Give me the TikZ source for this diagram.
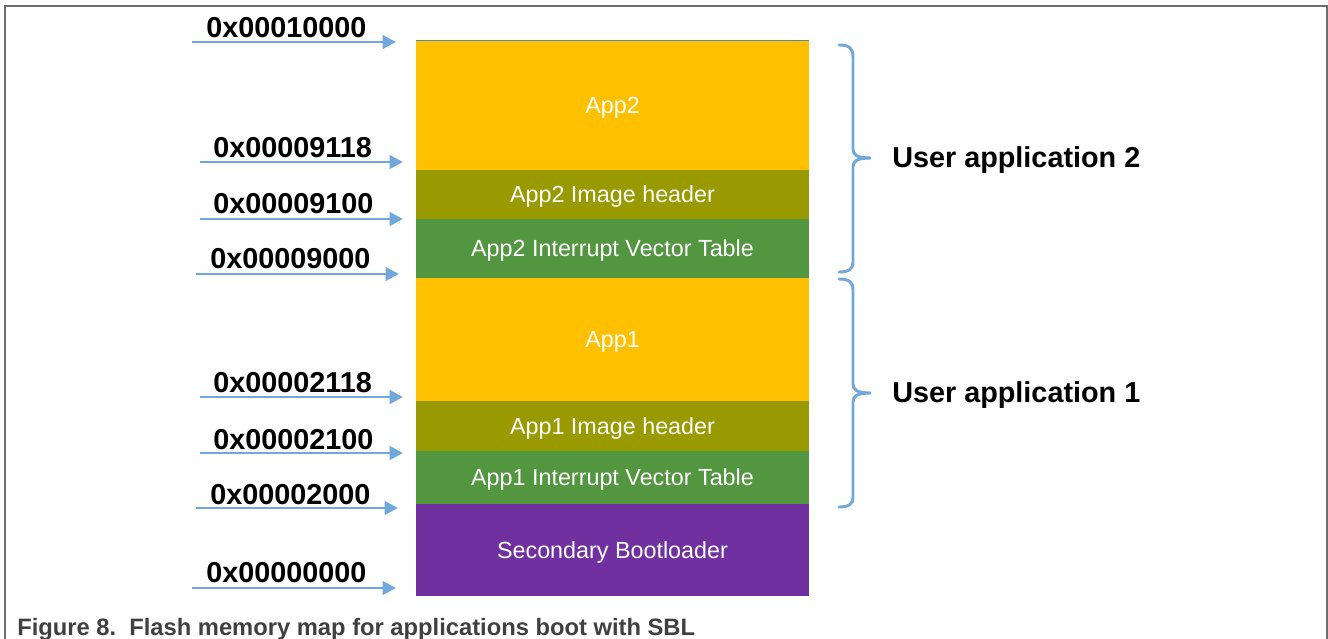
\documentclass[tikz,border=0pt]{standalone}
\usepackage{fontspec}
\setmainfont{Liberation Sans}
\usetikzlibrary{arrows.meta}
\definecolor{arrowblue}{RGB}{112,168,220}
\definecolor{appor}{RGB}{255,192,0}
\definecolor{hdrolive}{RGB}{153,153,0}
\definecolor{ivtgreen}{RGB}{83,150,64}
\definecolor{sblpurple}{RGB}{112,48,160}
\definecolor{framegray}{RGB}{110,110,110}
\definecolor{capgray}{RGB}{64,64,64}
\tikzset{
  addr/.style={draw=arrowblue, line width=2.2pt, -{Triangle[length=10pt,width=10pt]}},
  hexlbl/.style={anchor=base west, inner sep=0pt, font=\fontsize{21.6}{26}\selectfont\bfseries},
  memblock/.style={minimum width=294.75pt, inner sep=0pt, text=white, text height=12.5pt, text depth=0pt, font=\fontsize{17.5}{21}\selectfont},
  bracepath/.style={draw=arrowblue, line width=2.2pt, line cap=round},
  userlbl/.style={anchor=base west, inner sep=0pt, font=\fontsize{21.6}{26}\selectfont\bfseries},
}
\begin{document}
\begin{tikzpicture}[x=0.75pt,y=-0.75pt]
\useasboundingbox (0,0) rectangle (1328,639);
% frame
\draw[framegray, line width=1.1pt] (5,639) -- (5,6) -- (1327,6) -- (1327,639);
% memory blocks
\node[memblock, fill=appor, minimum height=96.75pt] (app2) at (612.5,105.5) {App2};
\node[memblock, fill=hdrolive, minimum height=36.75pt] (hdr2) at (612.5,194.5) {App2 Image header};
\node[memblock, fill=ivtgreen, minimum height=44.25pt] (ivt2) at (612.5,248) {App2 Interrupt Vector Table};
\node[memblock, fill=appor, minimum height=92.25pt] (app1) at (612.5,339.5) {App1};
\node[memblock, fill=hdrolive, minimum height=37.5pt] (hdr1) at (612.5,426) {App1 Image header};
\node[memblock, fill=ivtgreen, minimum height=39.75pt] (ivt1) at (612.5,477.5) {App1 Interrupt Vector Table};
\node[memblock, fill=sblpurple, minimum height=69pt] (sbl) at (612.5,550) {Secondary Bootloader};
\draw[draw=arrowblue!80!black, line width=0.8pt] (app2.north west) -- (app2.north east);
% address arrows
\coordinate (s1) at (192,42);  \coordinate (e1) at (396,42);
\coordinate (s2) at (200,162); \coordinate (e2) at (403,162);
\coordinate (s3) at (200,219); \coordinate (e3) at (403,219);
\coordinate (s4) at (196,274); \coordinate (e4) at (399,274);
\coordinate (s5) at (200,397); \coordinate (e5) at (403,397);
\coordinate (s6) at (200,453); \coordinate (e6) at (403,453);
\coordinate (s7) at (196,508); \coordinate (e7) at (398,508);
\coordinate (s8) at (192,588); \coordinate (e8) at (396,588);
\foreach \i in {1,...,8} {\draw[addr] (s\i) -- (e\i);}
% address labels
\node[hexlbl] (a1) at (206,37) {0x00010000};
\node[hexlbl] (a2) at (213,157) {0x00009118};
\node[hexlbl] (a3) at (213,213) {0x00009100};
\node[hexlbl] (a4) at (210,268) {0x00009000};
\node[hexlbl] (a5) at (213,392) {0x00002118};
\node[hexlbl] (a6) at (213,449) {0x00002100};
\node[hexlbl] (a7) at (210,504) {0x00002000};
\node[hexlbl] (a8) at (206,582) {0x00000000};
% braces
\coordinate (b2top) at (839,45); \coordinate (b2tip) at (871,158); \coordinate (b2bot) at (839,272);
\draw[bracepath] (b2top) .. controls (849,45) and (853,48) .. (853,57) -- (853,149)
  .. controls (853,155) and (857,158) .. (b2tip)
  .. controls (857,158) and (853,161) .. (853,167) -- (853,262)
  .. controls (853,269) and (849,272) .. (b2bot);
\coordinate (b1top) at (839,279); \coordinate (b1tip) at (871,393); \coordinate (b1bot) at (839,507);
\draw[bracepath] (b1top) .. controls (849,279) and (853,282) .. (853,290) -- (853,384)
  .. controls (853,390) and (857,393) .. (b1tip)
  .. controls (857,393) and (853,396) .. (853,402) -- (853,497)
  .. controls (853,504) and (849,507) .. (b1bot);
\node[userlbl] (u2) at (892,167) {User application 2};
\node[userlbl] (u1) at (892,402) {User application 1};
% caption
\node[anchor=base west, inner sep=0pt, text=capgray, font=\fontsize{17.8}{21}\selectfont\bfseries] (cap) at (17,635) {Figure 8.\ \ Flash memory map for applications boot with SBL};
\end{tikzpicture}
\end{document}
